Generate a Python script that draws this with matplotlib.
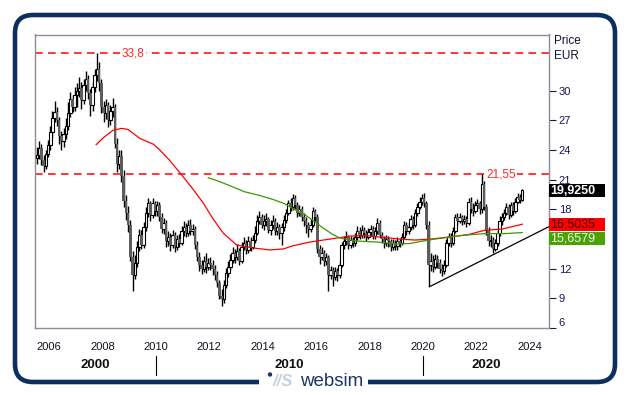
import numpy as np
import matplotlib
matplotlib.use("Agg")
import matplotlib.pyplot as plt
from matplotlib.patches import FancyBboxPatch, Rectangle, Circle

plt.rcParams['font.family'] = ['Liberation Sans', 'DejaVu Sans']

# ---------------- data (monthly candles, Jul 2005 - Sep 2023) ----------------
start_year = 2005.5

opens = [
    23.2, 23.5, 24.2, 23.0, 22.4, 23.6,
    24.5, 25.8, 27.2, 27.9, 27.0, 25.4, 24.9, 25.6, 26.4, 27.8, 29.2, 28.4,
    29.6, 30.0, 30.3, 29.1, 30.6, 31.2, 29.8, 28.6, 30.4, 31.6, 32.2, 30.8,
    28.4, 27.8, 28.6, 27.0, 28.0, 28.4, 24.6, 22.6, 23.4, 21.4, 18.9, 17.6,
    16.4, 13.2, 11.4, 12.6, 14.2, 15.4, 14.4, 16.2, 17.6, 18.6, 17.4, 18.6,
    17.8, 18.4, 17.2, 16.0, 16.6, 14.8, 15.2, 14.4, 15.4, 14.2, 15.0, 14.6,
    15.8, 16.2, 15.6, 16.4, 15.8, 16.0, 14.4, 13.2, 12.4, 12.0, 12.8, 12.2,
    12.6, 12.4, 12.0, 11.4, 10.6, 9.2, 8.9, 10.4, 11.6, 12.2, 12.9, 13.6,
    13.2, 13.8, 12.8, 14.2, 14.6, 13.9, 14.8, 14.2, 14.9, 15.6, 16.8, 17.2,
    16.4, 16.8, 17.0, 15.9, 16.4, 16.8, 15.8, 16.2, 15.6, 16.2, 16.9, 17.6,
    18.6, 18.2, 19.2, 18.4, 17.6, 18.0, 17.2, 16.8, 16.4, 16.0, 16.4, 17.8,
    17.2, 14.0, 13.2, 13.6, 12.8, 13.2, 11.4, 11.9, 11.2, 11.8, 11.4, 12.4,
    14.4, 14.8, 15.2, 14.4, 14.9, 14.6, 15.2, 15.8, 15.4, 15.9, 15.6, 15.2,
    15.7, 16.0, 15.3, 15.8, 16.6, 15.4, 15.0, 14.6, 15.0, 14.8, 14.2, 14.6,
    14.3, 14.8, 14.6, 15.2, 16.4, 15.8, 16.2, 17.0, 16.4, 17.6, 18.2, 18.8,
    19.2, 18.6, 16.4, 12.4, 12.8, 12.2, 13.0, 12.6, 12.0, 11.8, 12.4, 14.6,
    15.2, 14.6, 15.8, 17.2, 16.8, 17.2, 16.8, 17.0, 16.6, 18.8, 18.0, 17.8,
    18.4, 18.6, 18.0, 20.6, 18.2, 15.8, 14.8, 14.9, 14.0, 14.6, 15.6, 16.8,
    17.2, 17.6, 18.2, 17.4, 18.4, 17.8, 18.8, 19.3, 19.0,
]
highs = [
    24.3, 24.9, 24.6, 23.5, 24.0, 25.0,
    26.4, 28.0, 29.0, 28.4, 27.4, 25.9, 26.2, 27.2, 28.9, 29.9, 29.6, 30.4,
    30.8, 31.4, 30.9, 31.2, 32.0, 31.6, 30.2, 30.9, 32.2, 33.8, 32.9, 31.2,
    29.0, 29.2, 28.9, 28.6, 29.3, 28.7, 25.2, 24.0, 24.0, 22.0, 19.5, 18.3,
    16.9, 13.8, 13.4, 14.8, 16.0, 15.9, 16.7, 18.2, 19.2, 18.9, 19.2, 18.9,
    18.9, 18.8, 17.6, 17.1, 16.9, 15.8, 15.6, 15.9, 15.7, 15.4, 15.5, 16.3,
    16.8, 16.6, 16.9, 17.0, 16.5, 16.3, 14.8, 13.7, 12.9, 13.3, 13.6, 13.1,
    13.2, 12.9, 12.4, 11.8, 10.9, 9.9, 10.9, 12.1, 12.8, 13.5, 14.2, 14.0,
    14.5, 14.1, 14.7, 15.2, 14.9, 15.3, 15.2, 15.4, 16.3, 17.4, 17.8, 17.5,
    17.4, 17.6, 17.2, 16.9, 17.4, 17.1, 16.7, 16.5, 16.6, 17.4, 18.0, 19.0,
    19.2, 19.6, 19.5, 18.8, 18.4, 18.3, 17.6, 17.2, 16.7, 17.0, 18.2, 18.0,
    17.5, 14.4, 14.2, 13.9, 13.6, 13.4, 12.3, 12.2, 12.2, 12.1, 12.8, 14.7,
    15.3, 15.8, 15.4, 15.3, 15.2, 15.6, 16.3, 16.2, 16.4, 16.2, 15.9, 16.1,
    16.4, 16.3, 16.2, 17.1, 16.9, 15.7, 15.3, 15.4, 15.3, 15.0, 15.0, 14.9,
    15.2, 15.1, 15.6, 16.8, 16.7, 16.6, 17.4, 17.3, 18.0, 18.6, 19.3, 19.6,
    19.7, 18.9, 16.8, 13.6, 13.4, 13.5, 13.4, 13.0, 12.5, 12.9, 15.0, 15.6,
    15.6, 16.2, 17.5, 17.6, 17.6, 17.4, 17.4, 17.3, 19.2, 19.3, 18.6, 18.9,
    19.1, 18.9, 21.55, 20.9, 18.5, 16.2, 15.4, 15.2, 15.0, 16.0, 17.3, 17.6,
    18.0, 18.6, 18.5, 18.8, 18.7, 19.2, 19.7, 19.6, 20.1,
]
lows = [
    22.6, 23.1, 22.5, 21.8, 22.1, 23.3,
    24.0, 25.2, 26.8, 26.4, 24.6, 24.0, 24.3, 25.1, 26.0, 27.4, 27.9, 28.0,
    28.4, 29.4, 28.2, 28.7, 30.0, 29.2, 27.5, 28.0, 29.9, 31.0, 30.0, 27.8,
    26.8, 27.1, 26.3, 26.5, 27.4, 24.2, 21.8, 22.1, 20.8, 18.2, 16.9, 15.7,
    12.8, 9.7, 11.0, 12.2, 13.8, 14.0, 14.1, 15.8, 17.2, 16.8, 17.1, 17.3,
    17.3, 16.8, 15.6, 15.5, 14.2, 14.3, 13.8, 14.1, 13.7, 13.9, 14.2, 14.4,
    15.3, 15.2, 15.3, 15.4, 15.4, 14.0, 12.8, 11.8, 11.5, 11.7, 11.6, 11.9,
    11.9, 11.4, 10.9, 10.1, 8.9, 8.2, 8.5, 10.0, 11.2, 11.9, 12.6, 12.6,
    12.9, 12.4, 12.6, 13.9, 13.5, 13.6, 13.8, 14.0, 14.6, 15.4, 16.5, 16.1,
    15.9, 16.3, 15.6, 15.4, 16.0, 15.4, 15.4, 15.0, 14.4, 15.8, 16.6, 17.4,
    17.8, 17.9, 18.0, 17.2, 17.3, 16.8, 16.3, 15.6, 15.2, 15.7, 16.2, 16.8,
    13.6, 12.5, 12.9, 12.3, 12.4, 9.7, 11.0, 10.3, 10.9, 10.8, 11.1, 12.2,
    14.0, 14.4, 14.0, 14.1, 14.2, 14.3, 14.9, 15.0, 15.1, 15.1, 14.8, 15.0,
    15.3, 15.0, 15.0, 15.5, 15.1, 14.6, 14.1, 14.3, 14.2, 13.8, 13.9, 13.9,
    13.9, 14.2, 14.4, 15.0, 15.4, 15.5, 15.9, 16.0, 16.2, 17.3, 18.0, 18.4,
    18.2, 16.0, 10.2, 11.8, 11.7, 12.0, 12.1, 11.6, 11.3, 11.5, 12.2, 14.3,
    14.2, 14.4, 15.6, 16.4, 16.6, 16.4, 16.5, 16.2, 16.4, 17.6, 17.3, 17.6,
    18.0, 17.5, 17.6, 17.9, 15.4, 14.3, 14.2, 13.6, 13.8, 14.3, 15.3, 16.4,
    16.9, 17.4, 17.0, 17.2, 17.4, 17.6, 18.6, 18.6, 18.9,
]
closes = [
    23.5, 24.2, 23.0, 22.4, 23.6, 24.5,
    25.8, 27.2, 27.9, 27.0, 25.4, 24.9, 25.6, 26.4, 27.8, 29.2, 28.4, 29.6,
    30.0, 30.3, 29.1, 30.6, 31.2, 29.8, 28.6, 30.4, 31.6, 32.2, 30.8, 28.4,
    27.8, 28.6, 27.0, 28.0, 28.4, 24.6, 22.6, 23.4, 21.4, 18.9, 17.6, 16.4,
    13.2, 11.4, 12.6, 14.2, 15.4, 14.4, 16.2, 17.6, 18.6, 17.4, 18.6, 17.8,
    18.4, 17.2, 16.0, 16.6, 14.8, 15.2, 14.4, 15.4, 14.2, 15.0, 14.6, 15.8,
    16.2, 15.6, 16.4, 15.8, 16.0, 14.4, 13.2, 12.4, 12.0, 12.8, 12.2, 12.6,
    12.4, 12.0, 11.4, 10.6, 9.2, 8.9, 10.4, 11.6, 12.2, 12.9, 13.6, 13.2,
    13.8, 12.8, 14.2, 14.6, 13.9, 14.8, 14.2, 14.9, 15.6, 16.8, 17.2, 16.4,
    16.8, 17.0, 15.9, 16.4, 16.8, 15.8, 16.2, 15.6, 16.2, 16.9, 17.6, 18.6,
    18.2, 19.2, 18.4, 17.6, 18.0, 17.2, 16.8, 16.4, 16.0, 16.4, 17.8, 17.2,
    14.0, 13.2, 13.6, 12.8, 13.2, 11.4, 11.9, 11.2, 11.8, 11.4, 12.4, 14.4,
    14.8, 15.2, 14.4, 14.9, 14.6, 15.2, 15.8, 15.4, 15.9, 15.6, 15.2, 15.7,
    16.0, 15.3, 15.8, 16.6, 15.4, 15.0, 14.6, 15.0, 14.8, 14.2, 14.6, 14.3,
    14.8, 14.6, 15.2, 16.4, 15.8, 16.2, 17.0, 16.4, 17.6, 18.2, 18.8, 19.2,
    18.6, 16.4, 12.4, 12.8, 12.2, 13.0, 12.6, 12.0, 11.8, 12.4, 14.6, 15.2,
    14.6, 15.8, 17.2, 16.8, 17.2, 16.8, 17.0, 16.6, 18.8, 18.0, 17.8, 18.4,
    18.6, 18.0, 20.6, 18.2, 15.8, 14.8, 14.9, 14.0, 14.6, 15.6, 16.8, 17.2,
    17.6, 18.2, 17.4, 18.4, 17.8, 18.8, 19.3, 19.0, 19.925,
]

# moving averages
red_ma_x = [2007.76, 2008.05, 2008.39, 2008.7, 2008.95, 2009.39, 2009.9, 2010.15,
            2010.5, 2010.9, 2011.4, 2011.77, 2012.15, 2012.52, 2013.02, 2013.64,
            2014.27, 2014.77, 2015.1, 2015.77, 2016.52, 2017.27, 2017.89, 2018.39,
            2019.14, 2019.7, 2020.3, 2020.95, 2021.7, 2022.32, 2022.95, 2023.72]
red_ma_y = [24.55, 25.3, 26.0, 26.2, 26.1, 25.2, 24.6, 24.0,
            23.0, 21.7, 20.0, 18.65, 17.0, 15.6, 14.4, 14.1,
            13.9, 14.0, 14.3, 14.7, 15.0, 15.3, 15.35, 15.2,
            15.0, 14.9, 15.0, 15.2, 15.45, 15.9, 16.0, 16.5035]
green_ma_x = [2011.96, 2012.3, 2012.77, 2013.3, 2013.9, 2014.39, 2014.8, 2015.14,
              2015.5, 2015.77, 2016.27, 2016.6, 2016.89, 2017.52, 2018.27, 2019.01,
              2019.51, 2020.0, 2020.45, 2021.0, 2021.57, 2022.32, 2023.07, 2023.72]
green_ma_y = [21.2, 20.9, 20.4, 19.8, 19.4, 19.0, 18.6, 18.05,
              17.6, 17.1, 16.1, 15.5, 15.1, 14.8, 14.7, 14.5,
              14.55, 14.8, 15.0, 15.2, 15.4, 15.55, 15.55, 15.6579]

trend_x = [2020.24, 2024.72]
trend_y = [10.17, 16.26]

level_values = [33.8, 21.55]
level_label_x = [2009.15, 2022.92]

y_ticks = [6, 9, 12, 18, 21, 24, 27, 30]
x_ticks = [2006, 2008, 2010, 2012, 2014, 2016, 2018, 2020, 2022, 2024]
decades = ["2000", "2010", "2020"]
decade_starts = [2000, 2010, 2020]

last_values = [19.925, 16.5035, 15.6579]
last_labels = ["19,9250", "16,5035", "15,6579"]

# ---------------- figure ----------------
W, H = 629, 395
fig = plt.figure(figsize=(W / 100, H / 100), dpi=100)
fig.patch.set_facecolor("white")

PL, PR, PT, PB = 35, 549, 34.5, 328
ax = fig.add_axes([PL / W, 1 - PB / H, (PR - PL) / W, (PB - PT) / H])
XMIN, XMAX, YMIN, YMAX = 2005.47, 2024.72, 6.0, 35.7
ax.set_xlim(XMIN, XMAX)
ax.set_ylim(YMIN, YMAX)

n = min(len(opens), len(highs), len(lows), len(closes))
o = np.array(opens[:n]); h = np.array(highs[:n]); l = np.array(lows[:n]); c = np.array(closes[:n])
x = start_year + (np.arange(n) + 0.5) / 12.0
up = c >= o

ax.vlines(x, l, h, color="black", lw=1.0, zorder=3)
ax.bar(x[up], (c - o)[up], bottom=o[up], width=0.095, facecolor="white",
       edgecolor="black", lw=0.8, zorder=4)
ax.bar(x[~up], (o - c)[~up], bottom=c[~up], width=0.095, color="#5c5c5c",
       lw=0, zorder=4)

for v, lx in zip(level_values, level_label_x):
    ax.axhline(v, color="#ff0000", lw=1.1, ls=(0, (5, 3.5)), zorder=2)
    ax.text(lx, v, str(v).replace(".", ","), color="#ff2a2a", fontsize=8.5,
            ha="center", va="center", zorder=3,
            bbox=dict(fc="white", ec="none", pad=1.0))

ax.plot(red_ma_x, red_ma_y, color="#ff0000", lw=0.9, zorder=5)
ax.plot(green_ma_x, green_ma_y, color="#3c9a00", lw=0.9, zorder=5)
ax.plot(trend_x, trend_y, color="black", lw=0.9, zorder=5)

for sp in ax.spines.values():
    sp.set_color("#8c8c9c")
    sp.set_linewidth(1.0)

ax.yaxis.tick_right()
ax.set_yticks(y_ticks)
ax.set_yticklabels([str(t) for t in y_ticks])
ax.tick_params(axis="y", length=5, width=0.8, color="#1a1a40", labelsize=8,
               labelcolor="#141850", pad=2)
ax.get_yticklabels()[0].set_va("bottom")
ax.set_xticks(x_ticks)
ax.set_xticklabels([str(t) for t in x_ticks])
ax.tick_params(axis="x", length=0, labelsize=8, labelcolor="#101020", pad=10)

# decade labels and separators
xtr = ax.get_xaxis_transform()
for i, lab in enumerate(decades):
    lo = max(XMIN, decade_starts[i])
    hi = min(XMAX, decade_starts[i] + 10)
    ax.text((lo + hi) / 2, -(365 - PB) / (PB - PT), lab, transform=xtr,
            ha="center", va="center", fontsize=9.5, fontweight="bold",
            color="#101010", clip_on=False)
    if decade_starts[i] > XMIN:
        ax.plot([decade_starts[i]] * 2,
                [-(356 - PB) / (PB - PT), -(375 - PB) / (PB - PT)],
                transform=xtr, color="black", lw=0.8, clip_on=False)

# ---------------- overlay in pixel coordinates ----------------
ov = fig.add_axes([0, 0, 1, 1], zorder=10)
ov.set_xlim(0, W)
ov.set_ylim(H, 0)
ov.axis("off")
ov.patch.set_alpha(0)

frame = FancyBboxPatch((15, 15), 600, 367,
                       boxstyle="round,pad=0,rounding_size=18",
                       fc="none", ec="#0c2f62", lw=3.3)
ov.add_patch(frame)
ov.add_patch(Rectangle((259, 375), 109, 14, fc="white", ec="none"))
ov.add_patch(Circle((270, 374.5), 2.2, fc="#1b3566", ec="none"))
ov.text(273, 382, "//S", fontsize=12, fontstyle="italic", fontweight="bold",
        color="#c5d0de", ha="left", va="center")
ov.text(300, 381, "websim", fontsize=13.5, color="#1b3566",
        ha="left", va="center")

ov.text(554, 41, "Price", fontsize=8.5, color="#101030", ha="left", va="center")
ov.text(554, 56, "EUR", fontsize=8.5, color="#101030", ha="left", va="center")


def y_px(v):
    return PT + (YMAX - v) / (YMAX - YMIN) * (PB - PT)


box_styles = [("black", "white", "bold"), ("#ff0000", "#3a0000", "normal"),
              ("#4aa300", "#f0f0f0", "normal")]
prev_bottom = -1e9
for v, lab, (fc, tc, fw) in zip(last_values, last_labels, box_styles):
    cy = y_px(v)
    top = cy - 6.0
    if top < prev_bottom + 1:
        top = prev_bottom + 1
    ov.add_patch(Rectangle((549, top), 56, 13.0, fc=fc, ec="none"))
    ov.text(550, top + 6.6, lab, fontsize=9, color=tc, fontweight=fw,
            ha="left", va="center")
    prev_bottom = top + 13.0

fig.savefig("out.png", dpi=100, facecolor="white")
